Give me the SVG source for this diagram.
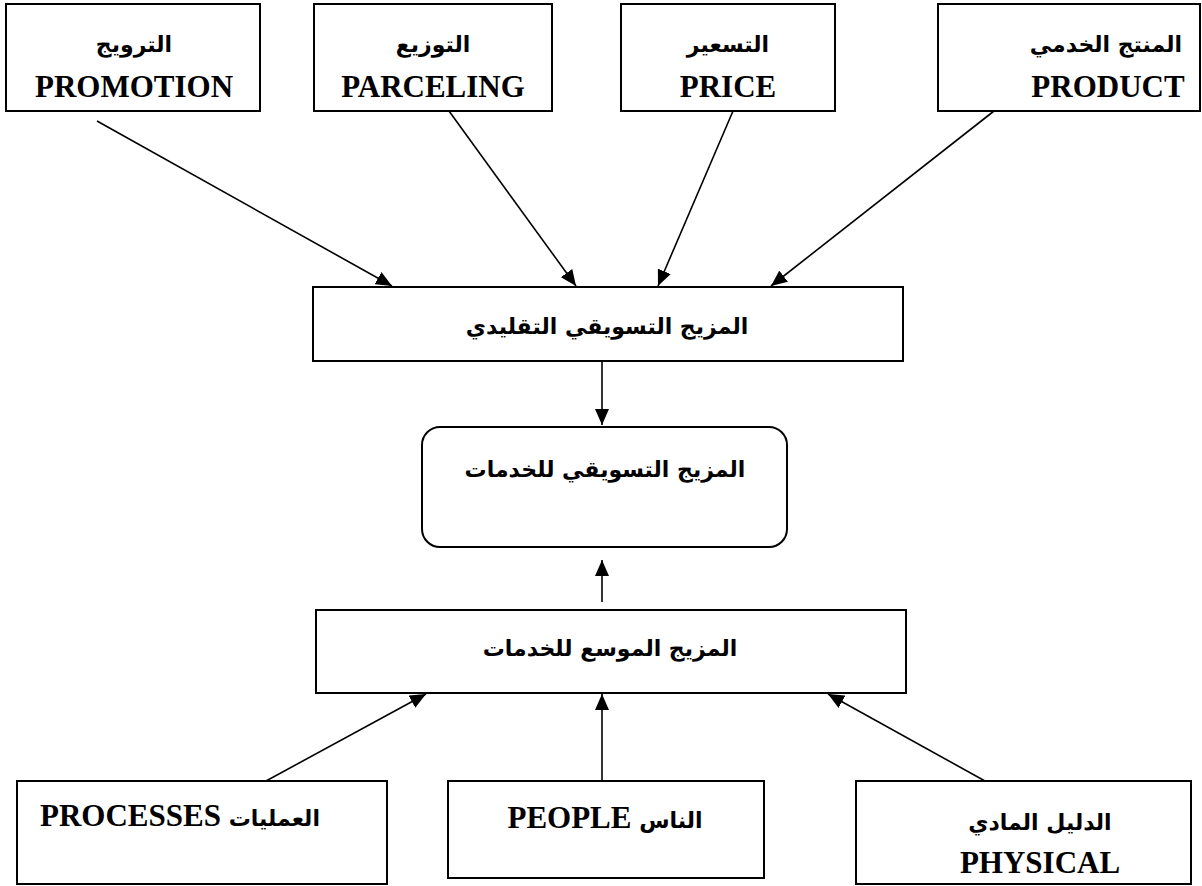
<svg xmlns="http://www.w3.org/2000/svg" width="1202" height="886" viewBox="0 0 1202 886">
<defs>
<style>
.box{fill:#fff;stroke:#000;stroke-width:2}
.en{font-family:"Liberation Serif","Times New Roman",serif;font-weight:bold;font-size:31px;fill:#000}
.ar{font-family:"DejaVu Sans","Noto Sans",sans-serif;font-weight:bold;font-size:22px;fill:#000}
.ln{stroke:#000;stroke-width:1.6;fill:none;marker-end:url(#ah)}
</style>
<marker id="ah" markerUnits="userSpaceOnUse" markerWidth="16" markerHeight="14" refX="16" refY="7" orient="auto">
<path d="M0,0 L16,7 L0,14 z" fill="#000"/>
</marker>
</defs>
<rect width="1202" height="886" fill="#fff"/>
<g id="connectors">
<line class="ln" x1="97" y1="121" x2="392" y2="286"/>
<line class="ln" x1="449" y1="111" x2="576" y2="286"/>
<line class="ln" x1="733" y1="111" x2="658" y2="286"/>
<line class="ln" x1="994" y1="111" x2="771" y2="286"/>
<line class="ln" x1="602" y1="352" x2="602" y2="425"/>
<line class="ln" x1="602" y1="602" x2="602" y2="560"/>
<line class="ln" x1="266" y1="781" x2="426" y2="694"/>
<line class="ln" x1="602" y1="781" x2="602" y2="694"/>
<line class="ln" x1="985" y1="781" x2="828" y2="694"/>
</g>
<g id="promotion">
<rect class="box" x="6" y="4" width="254" height="107"/>
<text class="ar" x="134" y="52" text-anchor="middle">الترويج</text>
<text class="en" x="134" y="97" text-anchor="middle">PROMOTION</text>
</g>
<g id="parceling">
<rect class="box" x="314" y="4" width="238" height="107"/>
<text class="ar" x="433" y="52" text-anchor="middle">التوزيع</text>
<text class="en" x="433" y="97" text-anchor="middle">PARCELING</text>
</g>
<g id="price">
<rect class="box" x="621" y="4" width="214" height="107"/>
<text class="ar" x="728" y="52" text-anchor="middle">التسعير</text>
<text class="en" x="728" y="97" text-anchor="middle">PRICE</text>
</g>
<g id="product">
<rect class="box" x="938" y="4" width="262" height="107"/>
<text class="ar" x="1106" y="52" text-anchor="middle">المنتج الخدمي</text>
<text class="en" x="1108" y="97" text-anchor="middle">PRODUCT</text>
</g>
<g id="traditional">
<rect class="box" x="313" y="287" width="590" height="74"/>
<text class="ar" x="607" y="334" text-anchor="middle">المزيج التسويقي التقليدي</text>
</g>
<g id="services-mix">
<rect class="box" x="422" y="427" width="365" height="120" rx="18" ry="18"/>
<text class="ar" x="605" y="477" text-anchor="middle">المزيج التسويقي للخدمات</text>
</g>
<g id="extended">
<rect class="box" x="316" y="610" width="590" height="83"/>
<text class="ar" x="610" y="656" text-anchor="middle">المزيج الموسع للخدمات</text>
</g>
<g id="processes">
<rect class="box" x="17" y="781" width="370" height="103"/>
<text x="180" y="826" text-anchor="middle"><tspan class="en">PROCESSES</tspan><tspan class="ar"> العمليات</tspan></text>
</g>
<g id="people">
<rect class="box" x="448" y="781" width="316" height="97"/>
<text x="605" y="828" text-anchor="middle"><tspan class="en">PEOPLE</tspan><tspan class="ar"> الناس</tspan></text>
</g>
<g id="physical">
<rect class="box" x="856" y="781" width="335" height="103"/>
<text class="ar" x="1040" y="830" text-anchor="middle">الدليل المادي</text>
<text class="en" x="1040" y="873" text-anchor="middle">PHYSICAL</text>
</g>
</svg>
